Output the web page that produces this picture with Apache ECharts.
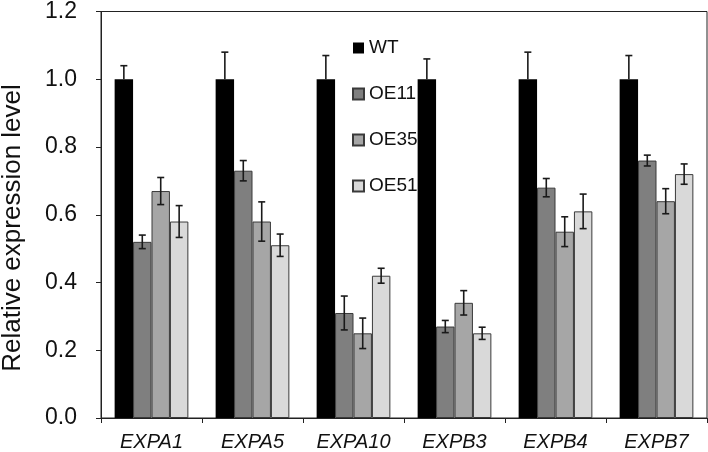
<!DOCTYPE html>
<html>
<head>
<meta charset="utf-8">
<script src="https://cdn.jsdelivr.net/npm/echarts@6/dist/echarts.min.js"></script>
<style>
html,body{margin:0;padding:0;background:#fff;}
#c{width:708px;height:452px;}
</style>
</head>
<body>
<div id="c"></div>
<script>
var categories = ['EXPA1', 'EXPA5', 'EXPA10', 'EXPB3', 'EXPB4', 'EXPB7'];
var seriesNames = ['WT', 'OE11', 'OE35', 'OE51'];
var wtValues   = [1.0, 1.0, 1.0, 1.0, 1.0, 1.0];
var wtErr      = [0.04, 0.08, 0.07, 0.06, 0.08, 0.07];
var oe11Values = [0.52, 0.73, 0.31, 0.27, 0.68, 0.76];
var oe11Err    = [0.02, 0.03, 0.05, 0.018, 0.027, 0.016];
var oe35Values = [0.67, 0.58, 0.25, 0.34, 0.55, 0.64];
var oe35Err    = [0.04, 0.058, 0.045, 0.036, 0.044, 0.037];
var oe51Values = [0.58, 0.51, 0.42, 0.25, 0.61, 0.72];
var oe51Err    = [0.047, 0.033, 0.022, 0.018, 0.051, 0.03];
var yTicks = [0, 0.2, 0.4, 0.6, 0.8, 1.0, 1.2];

var FONT = '"Liberation Sans", Arial, sans-serif';
var colors = ['#000000', '#7f7f7f', '#a6a6a6', '#d9d9d9'];
var allValues = [wtValues, oe11Values, oe35Values, oe51Values];
var allErr = [wtErr, oe11Err, oe35Err, oe51Err];
var GAP = 0.27;

var chart = echarts.init(document.getElementById('c'), null, {renderer: 'canvas'});

var series = [];
seriesNames.forEach(function (name, i) {
  series.push({
    name: name,
    type: 'bar',
    data: allValues[i],
    barGap: '0%',
    barCategoryGap: (GAP * 100) + '%',
    itemStyle: {color: colors[i], borderColor: '#3a3a3a', borderWidth: i === 0 ? 0 : 1},
    emphasis: {disabled: true},
    z: 2
  });
});
seriesNames.forEach(function (name, i) {
  var d = allValues[i].map(function (v, k) { return [k, v, allErr[i][k]]; });
  series.push({
    type: 'custom',
    name: name + '_err',
    data: d,
    z: 5,
    silent: true,
    renderItem: function (params, api) {
      var k = api.value(0), v = api.value(1), e = api.value(2);
      var band = api.size([1, 0])[0];
      var bw = band * (1 - GAP) / 4;
      var off = (i - 1.5) * bw;
      var top = api.coord([k, v + e]);
      var bot = api.coord([k, i === 0 ? v : v - e]);
      var x = top[0] + off;
      var cap = 3.5;
      var st = {stroke: '#1a1a1a', lineWidth: 1.6};
      var children = [
        {type: 'line', shape: {x1: x, y1: top[1], x2: x, y2: bot[1]}, style: st},
        {type: 'line', shape: {x1: x - cap, y1: top[1], x2: x + cap, y2: top[1]}, style: st}
      ];
      if (i !== 0) {
        children.push({type: 'line', shape: {x1: x - cap, y1: bot[1], x2: x + cap, y2: bot[1]}, style: st});
      }
      return {type: 'group', children: children};
    }
  });
});

chart.setOption({
  animation: false,
  backgroundColor: '#ffffff',
  textStyle: {fontFamily: FONT},
  grid: {left: 101, right: 1, top: 10, bottom: 32, show: true, borderColor: '#222', borderWidth: 1, containLabel: false},
  legend: {
    data: seriesNames,
    orient: 'vertical',
    left: 347,
    top: 33,
    itemWidth: 11,
    itemHeight: 11,
    itemGap: 26,
    itemTextGap: 4,
    icon: 'rect',
    selectedMode: false,
    textStyle: {fontFamily: FONT, fontSize: 19, color: '#111', lineHeight: 20}
  },
  xAxis: {
    type: 'category',
    data: categories,
    axisLine: {lineStyle: {color: '#222', width: 1}},
    axisTick: {show: true, length: 5, lineStyle: {color: '#222'}},
    axisLabel: {fontFamily: FONT, fontSize: 20, fontStyle: 'italic', color: '#111', margin: 14}
  },
  yAxis: {
    type: 'value',
    min: 0,
    max: 1.2,
    interval: 0.2,
    splitLine: {show: false},
    axisLine: {show: true, lineStyle: {color: '#222', width: 1}},
    axisTick: {show: true, length: 5, lineStyle: {color: '#222'}},
    axisLabel: {fontFamily: FONT, fontSize: 23, color: '#111', margin: 24,
      formatter: function (v) { return v.toFixed(1); }}
  },
  graphic: [{
    type: 'text',
    x: 13,
    y: 228,
    rotation: Math.PI / 2,
    style: {text: 'Relative expression level', font: '26px ' + FONT, fill: '#111', align: 'center', verticalAlign: 'middle'}
  }],
  series: series
});
</script>
</body>
</html>
